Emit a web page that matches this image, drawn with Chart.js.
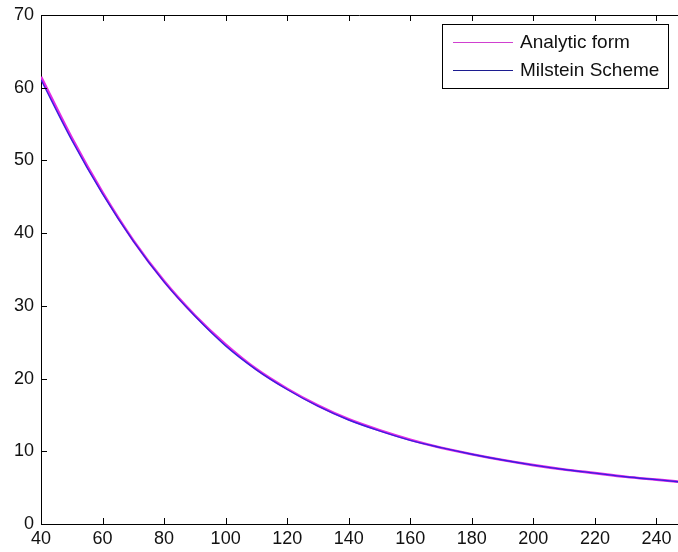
<!DOCTYPE html>
<html>
<head>
<meta charset="utf-8">
<script src="https://cdn.jsdelivr.net/npm/chart.js@4"></script>
<style>
    html, body { margin: 0; padding: 0; background: #fff; overflow: hidden; }
    #wrap { width: 678px; height: 552px; position: relative; }
</style>
</head>
<body>
<div id="wrap"><canvas id="plot"></canvas></div>
<script>
// --- DATA ---
const xValues = [40, 50, 60, 70, 80, 90, 100, 110, 120, 130, 140, 150, 160, 170, 180, 190, 200, 210, 220, 230, 240, 250];
const analyticValues = [61.5, 53.1, 45.6, 39.0, 33.4, 28.7, 24.7, 21.3, 18.6, 16.3, 14.4, 12.9, 11.6, 10.5, 9.6, 8.8, 8.1, 7.5, 7.0, 6.5, 6.1, 5.7];
const milsteinValues = [61.1, 52.8, 45.4, 38.9, 33.3, 28.6, 24.5, 21.2, 18.5, 16.2, 14.3, 12.8, 11.5, 10.5, 9.6, 8.8, 8.1, 7.5, 7.0, 6.5, 6.1, 5.7];
const xTicks = [40, 60, 80, 100, 120, 140, 160, 180, 200, 220, 240];
const yTicks = [0, 10, 20, 30, 40, 50, 60, 70];
const seriesNames = ['Analytic form', 'Milstein Scheme'];

const toPoints = (ys) => xValues.map((x, i) => ({ x: x, y: ys[i] }));

// inward ticks, top border and a boxed legend like the matlab figure
const matlabFrame = {
    id: 'matlabFrame',
    afterDraw(chart) {
        const ctx = chart.ctx;
        const area = chart.chartArea;
        const xs = chart.scales.x;
        const ys = chart.scales.y;
        const len = 6;
        ctx.save();
        ctx.strokeStyle = '#000';
        ctx.lineWidth = 1;
        ctx.beginPath();
        // top border
        ctx.moveTo(area.left, area.top + 0.5);
        ctx.lineTo(area.right, area.top + 0.5);
        xs.ticks.forEach(t => {
            const px = Math.round(xs.getPixelForValue(t.value)) + 0.5;
            ctx.moveTo(px, area.bottom);
            ctx.lineTo(px, area.bottom - len);
            ctx.moveTo(px, area.top);
            ctx.lineTo(px, area.top + len);
        });
        ys.ticks.forEach(t => {
            const py = Math.round(ys.getPixelForValue(t.value)) + 0.5;
            ctx.moveTo(area.left, py);
            ctx.lineTo(area.left + len, py);
        });
        ctx.stroke();

        // legend
        const bx = 442, by = 24, bw = 226, bh = 64;
        ctx.fillStyle = '#fff';
        ctx.fillRect(bx, by, bw, bh);
        ctx.strokeRect(bx + 0.5, by + 0.5, bw, bh);
        ctx.font = '19px "Liberation Sans", Arial, sans-serif';
        ctx.textBaseline = 'middle';
        chart.data.datasets.forEach((ds, i) => {
            const ly = 42 + i * 28 + 0.5;
            ctx.strokeStyle = ds.legendColor;
            ctx.lineWidth = 1.2;
            ctx.beginPath();
            ctx.moveTo(453, ly);
            ctx.lineTo(513, ly);
            ctx.stroke();
            ctx.fillStyle = '#111';
            ctx.fillText(ds.label, 520, ly);
        });
        ctx.restore();
    }
};

new Chart(document.getElementById('plot'), {
    type: 'line',
    data: {
        datasets: [{
            label: seriesNames[0],
            data: toPoints(analyticValues),
            borderColor: '#e22ae6',
            legendColor: '#d040d0',
            borderWidth: 2.6,
            pointRadius: 0,
            cubicInterpolationMode: 'monotone',
            order: 2
        }, {
            label: seriesNames[1],
            data: toPoints(milsteinValues),
            borderColor: '#3a1ee0',
            legendColor: '#1c1c90',
            borderWidth: 1.4,
            pointRadius: 0,
            cubicInterpolationMode: 'monotone',
            order: 1
        }]
    },
    options: {
        responsive: true,
        maintainAspectRatio: false,
        animation: false,
        layout: { padding: { top: 15, right: 0, left: 0, bottom: 0 } },
        plugins: {
            legend: { display: false },
            tooltip: { enabled: false }
        },
        scales: {
            x: {
                type: 'linear',
                min: 40,
                max: 247,
                afterBuildTicks: (scale) => { scale.ticks = xTicks.map(v => ({ value: v })); },
                afterFit: (scale) => { scale.height = 28; },
                grid: { display: false, drawTicks: false },
                border: { display: true, color: '#000', width: 1 },
                ticks: {
                    color: '#111',
                    padding: 4,
                    maxRotation: 0,
                    font: { family: '"Liberation Sans", Arial, sans-serif', size: 18 }
                }
            },
            y: {
                min: 0,
                max: 70,
                afterBuildTicks: (scale) => { scale.ticks = yTicks.map(v => ({ value: v })); },
                afterFit: (scale) => {
                    scale.width = 41;
                    scale.paddingTop = 0;
                    scale.paddingBottom = 0;
                },
                grid: { display: false, drawTicks: false },
                border: { display: true, color: '#000', width: 1 },
                ticks: {
                    color: '#111',
                    padding: 7,
                    font: { family: '"Liberation Sans", Arial, sans-serif', size: 18 }
                }
            }
        }
    },
    plugins: [matlabFrame]
});
</script>
</body>
</html>
